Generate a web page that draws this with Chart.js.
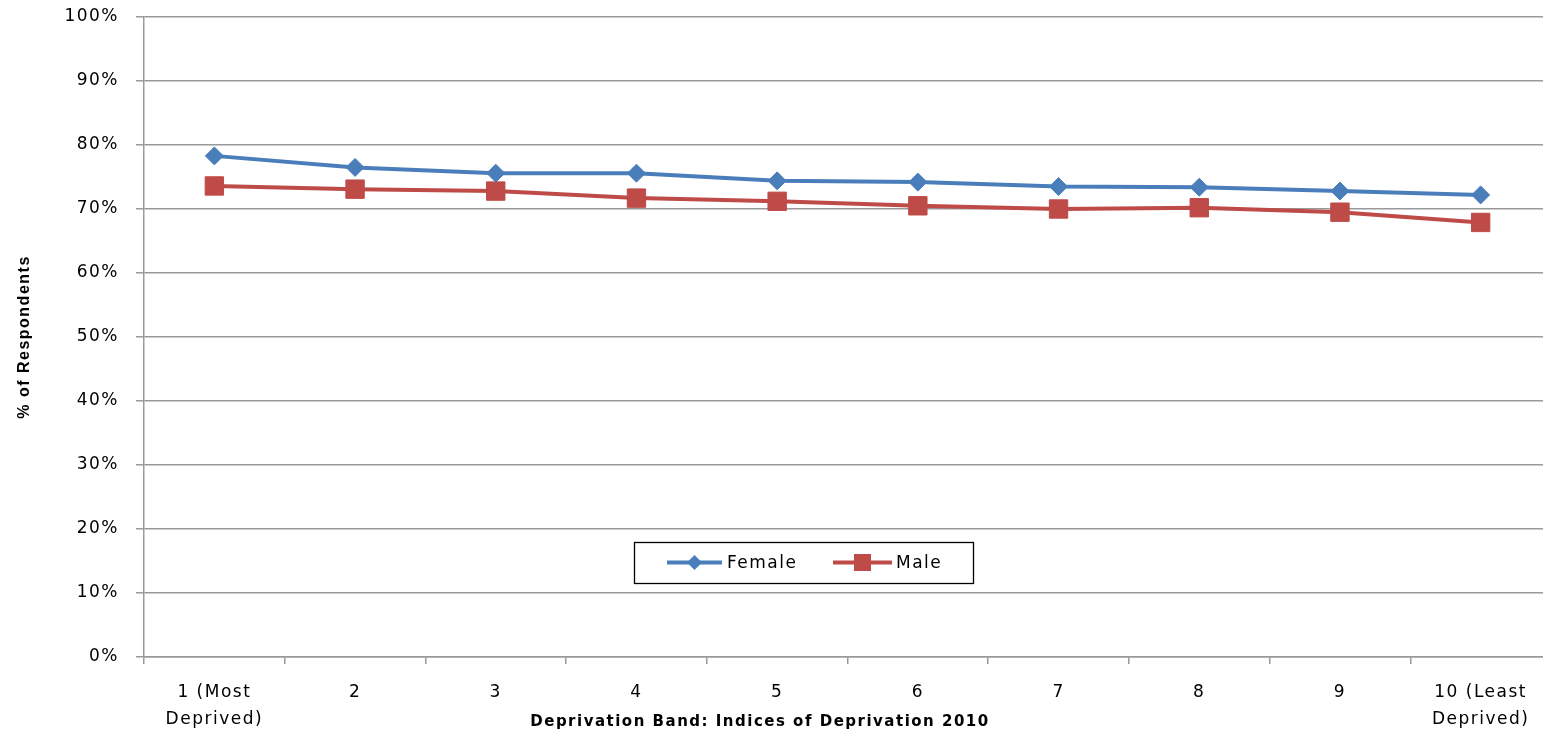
<!DOCTYPE html>
<html>
<head>
<meta charset="utf-8">
<script src="https://cdn.jsdelivr.net/npm/chart.js@4/dist/chart.umd.min.js"></script>
<style>
  html, body { margin: 0; padding: 0; background: #fff; overflow: hidden; }
  canvas { display: block; }
</style>
</head>
<body>
<canvas id="c" width="1565" height="745" style="width:1565px;height:745px"></canvas>
<script>
const categories = [['1 (Most', 'Deprived)'], '2', '3', '4', '5', '6', '7', '8', '9', ['10 (Least', 'Deprived)']];
const femaleValues = [78.3, 76.5, 75.6, 75.6, 74.4, 74.2, 73.5, 73.4, 72.8, 72.2];
const maleValues = [73.6, 73.1, 72.8, 71.7, 71.2, 70.5, 70.0, 70.2, 69.5, 67.9];
const yTicks = [0, 10, 20, 30, 40, 50, 60, 70, 80, 90, 100];
const xTitle = 'Deprivation Band: Indices of Deprivation 2010';
const yTitle = '% of Respondents';

const BLUE = '#4a7ebb';
const RED = '#be4b48';
const GRID = '#999999';

const spacingPlugin = {
  id: 'spacing',
  beforeLayout(chart) { chart.ctx.letterSpacing = '1.5px'; },
  beforeDraw(chart) { chart.ctx.letterSpacing = '1.5px'; }
};

const xTitlePlugin = {
  id: 'xTitle',
  afterDraw(chart) {
    const ctx = chart.ctx;
    const ca = chart.chartArea;
    ctx.save();
    ctx.letterSpacing = '1.5px';
    ctx.font = 'bold 15px "DejaVu Sans"';
    ctx.fillStyle = '#000';
    ctx.textAlign = 'center';
    ctx.textBaseline = 'middle';
    ctx.fillText(xTitle, ca.left + 616, ca.bottom + 65);
    ctx.restore();
  }
};

const legendPlugin = {
  id: 'boxLegend',
  afterDraw(chart) {
    const ctx = chart.ctx;
    const ca = chart.chartArea;
    const x0 = ca.left + 490, y0 = ca.top + 525, w = 339, h = 41;
    ctx.save();
    ctx.fillStyle = '#fff';
    ctx.fillRect(x0, y0, w, h);
    ctx.strokeStyle = '#000';
    ctx.lineWidth = 1.3;
    ctx.strokeRect(x0 + 0.5, y0 + 0.5, w, h);
    const cy = y0 + h / 2;
    const items = [
      { ds: chart.data.datasets[0], lx: x0 + 33, len: 55, tx: x0 + 93 },
      { ds: chart.data.datasets[1], lx: x0 + 199, len: 59, tx: x0 + 262 }
    ];
    ctx.font = '17px "DejaVu Sans"';
    ctx.letterSpacing = '1.5px';
    items.forEach(it => {
      const ds = it.ds;
      ctx.strokeStyle = ds.borderColor;
      ctx.lineWidth = 4;
      ctx.beginPath();
      ctx.moveTo(it.lx, cy);
      ctx.lineTo(it.lx + it.len, cy);
      ctx.stroke();
      const mx = it.lx + it.len / 2;
      ctx.fillStyle = ds.pointBackgroundColor;
      ctx.beginPath();
      if (ds.pointStyle === 'rectRot') {
        const r = 7.5;
        ctx.moveTo(mx - r, cy); ctx.lineTo(mx, cy - r); ctx.lineTo(mx + r, cy); ctx.lineTo(mx, cy + r);
        ctx.closePath();
      } else {
        const s = 8.5;
        ctx.rect(mx - s, cy - s, 2 * s, 2 * s);
      }
      ctx.fill();
      ctx.fillStyle = '#000';
      ctx.textAlign = 'left';
      ctx.textBaseline = 'middle';
      ctx.fillText(ds.label, it.tx, cy + 1);
    });
    ctx.restore();
  }
};

new Chart(document.getElementById('c'), {
  type: 'line',
  data: {
    labels: categories,
    datasets: [
      {
        label: 'Female',
        data: femaleValues,
        borderColor: BLUE,
        backgroundColor: BLUE,
        pointBackgroundColor: BLUE,
        pointBorderColor: BLUE,
        borderWidth: 4,
        pointStyle: 'rectRot',
        pointRadius: 9,
        pointBorderWidth: 1,
        tension: 0
      },
      {
        label: 'Male',
        data: maleValues,
        borderColor: RED,
        backgroundColor: RED,
        pointBackgroundColor: RED,
        pointBorderColor: RED,
        borderWidth: 4,
        pointStyle: 'rect',
        pointRadius: 13,
        pointBorderWidth: 1,
        tension: 0
      }
    ]
  },
  options: {
    responsive: false,
    animation: false,
    events: [],
    layout: { padding: { left: 10, top: 17, right: 0, bottom: 0 } },
    plugins: {
      legend: { display: false },
      tooltip: { enabled: false }
    },
    scales: {
      x: {
        type: 'category',
        offset: true,
        grid: {
          display: true,
          offset: true,
          drawOnChartArea: false,
          drawTicks: true,
          tickLength: 7,
          color: GRID,
          lineWidth: 1.5
        },
        border: { display: true, color: GRID, width: 1.5 },
        ticks: {
          color: '#000',
          font: { family: '"DejaVu Sans"', size: 17, lineHeight: 1.59 },
          padding: 15,
          maxRotation: 0,
          autoSkip: false
        },
        title: { display: false },
        afterFit(scale) {
          scale.height = 88;
          scale.paddingLeft = 0;
          scale.paddingRight = 0;
        }
      },
      y: {
        min: 0,
        max: 100,
        afterBuildTicks(scale) { scale.ticks = yTicks.map(v => ({ value: v })); },
        grid: {
          color: GRID,
          lineWidth: 1.5,
          drawTicks: true,
          tickLength: 8
        },
        border: { display: true, color: GRID, width: 1.5 },
        ticks: {
          color: '#000',
          font: { family: '"DejaVu Sans"', size: 17 },
          padding: 17,
          callback: v => v + '%'
        },
        title: {
          display: true,
          text: yTitle,
          color: '#000',
          font: { family: '"Liberation Sans Narrow", "Liberation Sans"', size: 16, weight: 'bold', lineHeight: 1.2 },
          padding: { top: 5, bottom: 0 }
        },
        afterFit(scale) {
          scale.width = 134;
          scale.paddingTop = 0;
          scale.paddingBottom = 0;
        }
      }
    }
  },
  plugins: [spacingPlugin, xTitlePlugin, legendPlugin]
});
</script>
</body>
</html>
